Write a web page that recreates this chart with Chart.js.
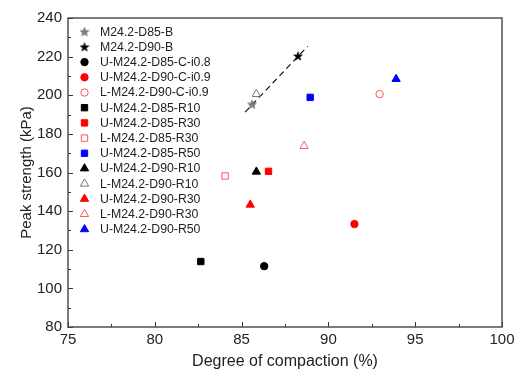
<!DOCTYPE html>
<html>
<head>
<meta charset="utf-8">
<script src="https://cdn.jsdelivr.net/npm/chart.js@4/dist/chart.umd.min.js"></script>
<style>
  html, body { margin: 0; padding: 0; background: #fff; }
  #wrap { width: 522px; height: 372px; }
</style>
</head>
<body>
<div id="wrap"><canvas id="strengthChart" width="522" height="372"></canvas></div>
<script>
// data
const seriesNames = [
  'M24.2-D85-B', 'M24.2-D90-B', 'U-M24.2-D85-C-i0.8', 'U-M24.2-D90-C-i0.9', 'L-M24.2-D90-C-i0.9',
  'U-M24.2-D85-R10', 'U-M24.2-D85-R30', 'L-M24.2-D85-R30', 'U-M24.2-D85-R50',
  'U-M24.2-D90-R10', 'L-M24.2-D90-R10', 'U-M24.2-D90-R30', 'L-M24.2-D90-R30', 'U-M24.2-D90-R50'
];
const compaction   = [85.6, 88.25, 86.3, 91.5, 92.95, 82.65, 86.55, 84.05, 88.95, 85.85, 85.85, 85.5, 88.6, 93.9];
const peakStrength = [195.3, 220.3, 111.5, 133.3, 200.6, 113.9, 160.6, 158.2, 198.9, 160.4, 200.6, 143.3, 173.7, 208.4];
const trendX = [85.2, 88.8];
const trendY = [191.2, 225.3];
const xTicks = [75, 80, 85, 90, 95, 100];
const yTicks = [80, 100, 120, 140, 160, 180, 200, 220, 240];

// marker styles
const shapes = ['star', 'star', 'circle', 'circle', 'circle', 'rect', 'rect', 'rect', 'rect',
  'triangle', 'triangle', 'triangle', 'triangle', 'triangle'];
const colors = ['#808080', '#000', '#000', '#f00', '#f55', '#000', '#f00', '#f55', '#00f',
  '#000', '#777', '#f00', '#f55', '#00f'];
const hollow = [false, false, false, false, true, false, false, true, false, false, true, false, true, false];

function starImage(color) {
  const c = document.createElement('canvas');
  c.width = 10; c.height = 10;
  const g = c.getContext('2d');
  g.beginPath();
  for (let i = 0; i < 10; i++) {
    const r = i % 2 ? 1.9 : 4.6;
    const a = -Math.PI / 2 + i * Math.PI / 5;
    const px = 5 + r * Math.cos(a), py = 5.4 + r * Math.sin(a);
    i ? g.lineTo(px, py) : g.moveTo(px, py);
  }
  g.closePath();
  g.fillStyle = color;
  g.fill();
  g.strokeStyle = color === '#000' ? '#000' : '#555';
  g.lineWidth = 0.6;
  g.stroke();
  return c;
}

function radiusFor(shape) {
  if (shape === 'circle') return 3.7;
  if (shape === 'rect') return 4.5;
  if (shape === 'triangle') return 4.8;
  return 5;
}

const datasets = seriesNames.map((name, i) => ({
  label: name,
  data: [{x: compaction[i], y: peakStrength[i]}],
  pointStyle: shapes[i] === 'star' ? starImage(colors[i]) : shapes[i],
  pointRadius: radiusFor(shapes[i]),
  backgroundColor: hollow[i] ? '#fff' : colors[i],
  borderColor: colors[i],
  borderWidth: 1,
  showLine: false
}));
datasets.push({
  label: 'trend',
  type: 'line',
  data: trendX.map((x, i) => ({x: x, y: trendY[i]})),
  borderColor: '#000',
  borderWidth: 1.1,
  borderDash: [6, 4],
  pointRadius: 0,
  order: 1
});

const frameAndTicks = {
  id: 'frameAndTicks',
  afterDatasetsDraw(chart) {
    const {ctx, chartArea: a, scales} = chart;
    ctx.save();
    ctx.strokeStyle = '#333';
    ctx.lineWidth = 1;
    ctx.beginPath();
    for (let v = 75; v <= 100; v += 2.5) {
      const px = Math.round(scales.x.getPixelForValue(v)) + 0.5;
      const len = v % 5 === 0 ? 5 : 3;
      ctx.moveTo(px, a.bottom); ctx.lineTo(px, a.bottom - len);
    }
    for (let v = 80; v <= 240; v += 10) {
      const py = Math.round(scales.y.getPixelForValue(v)) + 0.5;
      const len = v % 20 === 0 ? 5 : 3;
      ctx.moveTo(a.left, py); ctx.lineTo(a.left + len, py);
    }
    ctx.stroke();
    ctx.strokeStyle = '#444';
    ctx.lineWidth = 1.4;
    ctx.strokeRect(a.left, a.top, a.right - a.left, a.bottom - a.top);

    // legend inside the plot
    ctx.font = '12.3px "Liberation Sans", Arial, sans-serif';
    ctx.textBaseline = 'middle';
    seriesNames.forEach((name, i) => {
      const ds = chart.data.datasets[i];
      const y = 31.7 + i * 15.2;
      ctx.fillStyle = ds.backgroundColor;
      ctx.strokeStyle = ds.borderColor;
      ctx.lineWidth = 1;
      Chart.helpers.drawPoint(ctx, {pointStyle: ds.pointStyle, radius: ds.pointRadius, rotation: 0, borderWidth: 1}, 84.5, y);
      ctx.fillStyle = '#222';
      ctx.fillText(name, 100, y + 0.5);
    });
    ctx.restore();
  }
};

const font = {family: '"Liberation Sans", Arial, sans-serif', size: 15};

new Chart(document.getElementById('strengthChart').getContext('2d'), {
  type: 'scatter',
  data: {datasets: datasets},
  options: {
    responsive: false,
    animation: false,
    layout: {padding: {top: 18, right: 20, left: 0, bottom: 0}},
    plugins: {legend: {display: false}, tooltip: {enabled: false}},
    scales: {
      x: {
        type: 'linear', min: 75, max: 100,
        afterFit: s => { s.height = 45; },
        afterBuildTicks: s => { s.ticks = xTicks.map(v => ({value: v})); },
        grid: {display: false, drawTicks: false},
        border: {display: false},
        ticks: {font: font, color: '#222', padding: 4, maxRotation: 0},
        title: {display: true, text: 'Degree of compaction (%)', font: {family: font.family, size: 16}, color: '#222', padding: {bottom: 1, top: 0}}
      },
      y: {
        type: 'linear', min: 80, max: 240,
        afterFit: s => { s.width = 68; },
        afterBuildTicks: s => { s.ticks = yTicks.map(v => ({value: v})); },
        grid: {display: false, drawTicks: false},
        border: {display: false},
        ticks: {font: font, color: '#222', padding: 6},
        title: {display: true, text: 'Peak strength (kPa)', font: font, color: '#222', padding: {top: 18, bottom: 0}}
      }
    }
  },
  plugins: [frameAndTicks]
});
</script>
</body>
</html>
